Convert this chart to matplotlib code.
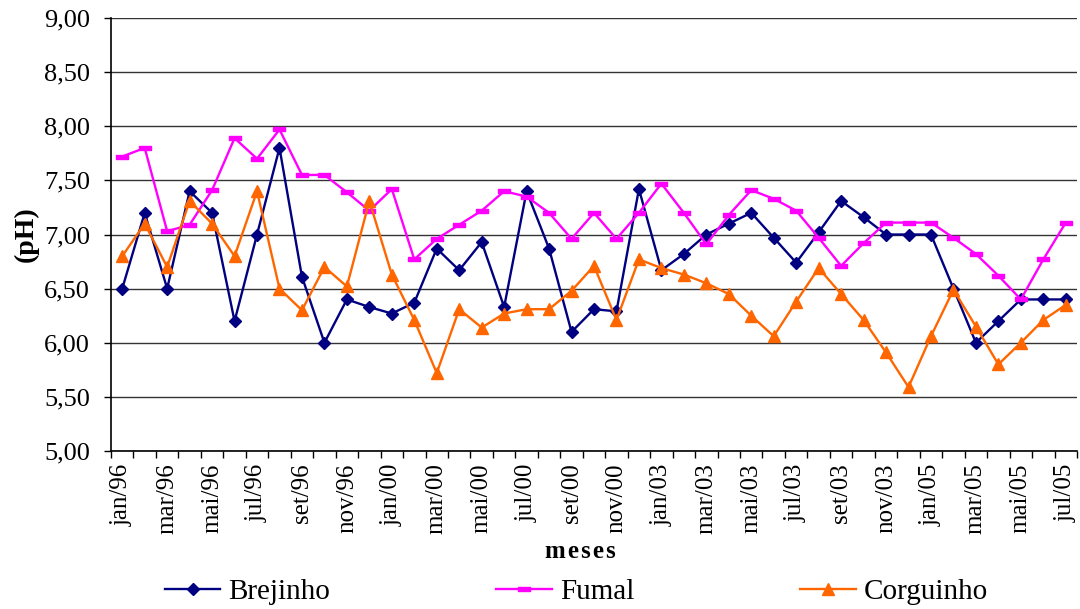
import matplotlib
matplotlib.use("Agg")
import matplotlib.pyplot as plt
from matplotlib.path import Path
import numpy as np

months = ["jan", "fev", "mar", "abr", "mai", "jun", "jul", "ago", "set", "out", "nov", "dez"]
categories = ([f"{m}/96" for m in months] + [f"{m}/00" for m in months] +
              [f"{m}/03" for m in months] + [f"{m}/05" for m in months[:7]])

brejinho = [6.50, 7.20, 6.50, 7.40, 7.20, 6.20, 7.00, 7.80, 6.61, 6.00, 6.40, 6.33,
            6.27, 6.37, 6.87, 6.67, 6.93, 6.33, 7.40, 6.87, 6.10, 6.31, 6.29, 7.42,
            6.67, 6.82, 7.00, 7.10, 7.20, 6.97, 6.74, 7.02, 7.31, 7.16, 7.00, 7.00,
            7.00, 6.50, 6.00, 6.20, 6.40, 6.40, 6.40]
fumal = [7.72, 7.80, 7.03, 7.09, 7.41, 7.89, 7.70, 7.97, 7.55, 7.55, 7.39, 7.22,
         7.42, 6.77, 6.96, 7.09, 7.22, 7.40, 7.35, 7.20, 6.96, 7.20, 6.96, 7.20,
         7.47, 7.20, 6.91, 7.18, 7.41, 7.33, 7.22, 6.97, 6.71, 6.92, 7.11, 7.11,
         7.11, 6.97, 6.82, 6.62, 6.40, 6.77, 7.11]
corguinho = [6.80, 7.10, 6.70, 7.31, 7.10, 6.80, 7.40, 6.50, 6.30, 6.70, 6.52, 7.31,
             6.63, 6.21, 5.72, 6.31, 6.14, 6.27, 6.31, 6.31, 6.48, 6.71, 6.21, 6.77,
             6.69, 6.63, 6.55, 6.45, 6.25, 6.06, 6.38, 6.69, 6.45, 6.21, 5.91, 5.59,
             6.06, 6.49, 6.15, 5.80, 6.00, 6.21, 6.35]

yticks = [5.0, 5.5, 6.0, 6.5, 7.0, 7.5, 8.0, 8.5, 9.0]

plt.rcParams['font.family'] = ['Liberation Serif', 'DejaVu Serif']

W, H = 1080, 609
fig = plt.figure(figsize=(W / 100, H / 100), dpi=100)
ax = fig.add_axes([111 / W, 1 - 451 / H, (1077 - 111) / W, (451 - 18) / H])

x = np.arange(len(categories))
dash = Path([[-1, -0.4], [1, -0.4], [1, 0.4], [-1, 0.4], [-1, -0.4]],
            [Path.MOVETO, Path.LINETO, Path.LINETO, Path.LINETO, Path.CLOSEPOLY])

ax.plot(x, brejinho, color="#000080", lw=1.7, marker="D", ms=6.5, label="Brejinho", zorder=3)
ax.plot(x, fumal, color="#FF00FF", lw=1.7, marker=dash, ms=8, label="Fumal", zorder=3)
ax.plot(x, corguinho, color="#FF6600", lw=1.7, marker="^", ms=9, label="Corguinho", zorder=3)

ax.set_xlim(-0.5, len(categories) - 0.5)
ax.set_ylim(5, 9)
ax.set_yticks(yticks)
ax.set_yticklabels([f"{v:.2f}".replace(".", ",") for v in yticks], fontsize=19)
ax.yaxis.grid(True, color="#333333", lw=1)
ax.set_axisbelow(True)

ax.set_xticks(x[::2])
ax.set_xticklabels(categories[::2], rotation=90, fontsize=18)
ax.set_xticks(np.arange(-0.5, len(categories), 1), minor=True)
ax.tick_params(axis='x', which='major', length=0, pad=9)
ax.tick_params(axis='x', which='minor', length=5, width=1, direction='out')
ax.tick_params(axis='y', length=5, width=1, direction='out', pad=10)

for s in ["top", "right"]:
    ax.spines[s].set_visible(False)
for s in ["left", "bottom"]:
    ax.spines[s].set_linewidth(1.2)
    ax.spines[s].set_color("black")

ax.set_ylabel("(pH)", fontsize=20, fontweight="bold")
ax.yaxis.set_label_coords((39 - 111) / (1077 - 111), 0.5)
fig.text(580 / W, 1 - 551 / H, "m\u200ae\u200as\u200ae\u200as", fontsize=18, fontweight="bold",
         ha="center", va="center")

leg = fig.legend(loc="center left", bbox_to_anchor=(165 / W, 1 - 592 / H), ncol=3, frameon=False,
                 fontsize=21, columnspacing=5.7, handlelength=1.9, handletextpad=0.27,
                 borderpad=0, borderaxespad=0)

fig.savefig("out.png", dpi=100)
